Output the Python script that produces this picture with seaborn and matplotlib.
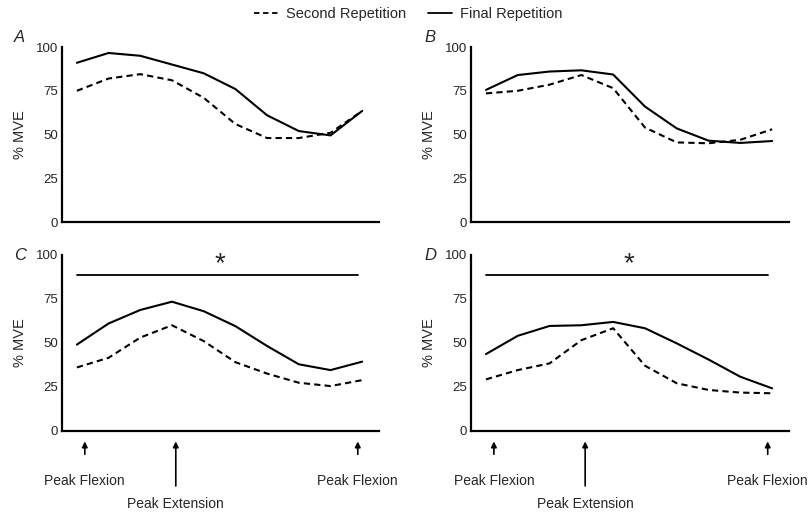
import matplotlib
matplotlib.use("Agg")
import matplotlib.pyplot as plt
import seaborn as sns
import pandas as pd
import numpy as np
from matplotlib.lines import Line2D

sns.set_theme(style="ticks")
plt.rcParams['font.family'] = ['Liberation Sans', 'DejaVu Sans']

positions = list(range(10))
panels = ["A", "B", "C", "D"]
second_A = [75, 82, 84.5, 81, 71, 56, 48, 48, 51, 63.5]
final_A = [91, 96.6, 95, 90, 85, 76, 61, 52, 49.5, 63.5]
second_B = [73.5, 75, 78.5, 84, 76.5, 54, 45.5, 45, 47, 53]
final_B = [75.5, 84, 86, 86.7, 84.3, 66, 53.5, 46.5, 45.2, 46.3]
second_C = [36, 41.5, 53, 60, 51, 39, 32.5, 27.3, 25.4, 28.8]
final_C = [49, 61, 68.7, 73.4, 68, 59.5, 48.2, 37.8, 34.5, 39.3]
second_D = [29.2, 34.5, 38.3, 51.5, 58.3, 37, 27, 23.2, 21.7, 21.3]
final_D = [43.6, 54, 59.6, 60, 61.9, 58.3, 49.7, 40.5, 30.7, 24.1]
yticks = [0, 25, 50, 75, 100]
series_names = ["Second Repetition", "Final Repetition"]
signif_panels = ["C", "D"]
signif_level = 88.5
marker_pos = [0.25, 3.12, 8.86]
marker_labels = ["Peak Flexion", "Peak Extension", "Peak Flexion"]

data = {"A": (second_A, final_A), "B": (second_B, final_B),
        "C": (second_C, final_C), "D": (second_D, final_D)}

fig = plt.figure(figsize=(8.09, 5.14), dpi=100)

rects = {
    "A": [0.0766, 0.568, 0.3919, 0.3405],
    "B": [0.5822, 0.568, 0.3931, 0.3405],
    "C": [0.0766, 0.162, 0.3919, 0.342],
    "D": [0.5822, 0.162, 0.3931, 0.342],
}
letter_pos = {"A": (14, 37), "B": (424, 37), "C": (14, 256), "D": (424, 256)}

for p in panels:
    ax = fig.add_axes(rects[p])
    s, f = data[p]
    df = pd.DataFrame({
        "pos": positions * 2,
        "mve": s + f,
        "rep": [series_names[0]] * 10 + [series_names[1]] * 10,
    })
    sns.lineplot(data=df, x="pos", y="mve", style="rep",
                 dashes={series_names[0]: (3, 2), series_names[1]: ""},
                 color="black", linewidth=1.5, legend=False, ax=ax)
    ax.set_xlim(-0.47, 9.53)
    ax.set_ylim(0, 100)
    ax.set_yticks(yticks)
    ax.set_yticklabels([str(t) for t in yticks], fontsize=9.5)
    ax.tick_params(axis="y", length=0, pad=3)
    ax.set_xticks([])
    ax.set_xlabel("")
    ax.set_ylabel("% MVE", fontsize=10.5, labelpad=6)
    for side in ["top", "right"]:
        ax.spines[side].set_visible(False)
    for side in ["left", "bottom"]:
        ax.spines[side].set_linewidth(1.6)
        ax.spines[side].set_color("black")
    lx, ly = letter_pos[p]
    fig.text(lx / 809, 1 - ly / 514, p, fontsize=12,
             style="italic", ha="left", va="center")
    if p in signif_panels:
        ax.plot([0, marker_pos[-1]], [signif_level, signif_level],
                color="black", lw=1.3)
        ax.text(4.5, 95, "*", fontsize=20, ha="center", va="center")
        for xp, lab, long in zip(marker_pos, marker_labels, [False, True, False]):
            ytail = -15 if not long else -33
            ax.annotate("", xy=(xp, -4.5), xytext=(xp, ytail),
                        xycoords="data", textcoords="data",
                        arrowprops=dict(arrowstyle="-|>", color="black",
                                        lw=1.2, mutation_scale=8),
                        annotation_clip=False)
            ly2 = -28.5 if not long else -41.5
            ax.text(xp, ly2, lab, fontsize=10, ha="center", va="center",
                    clip_on=False)

handles = [Line2D([], [], color="black", lw=1.3, linestyle=(0, (3, 2))),
           Line2D([], [], color="black", lw=1.3)]
fig.legend(handles, series_names, loc="center", bbox_to_anchor=(0.505, 0.972),
           ncol=2, frameon=False, fontsize=10.5, handlelength=1.6,
           columnspacing=1.5, handletextpad=0.6)

fig.savefig("out.png", dpi=100)
